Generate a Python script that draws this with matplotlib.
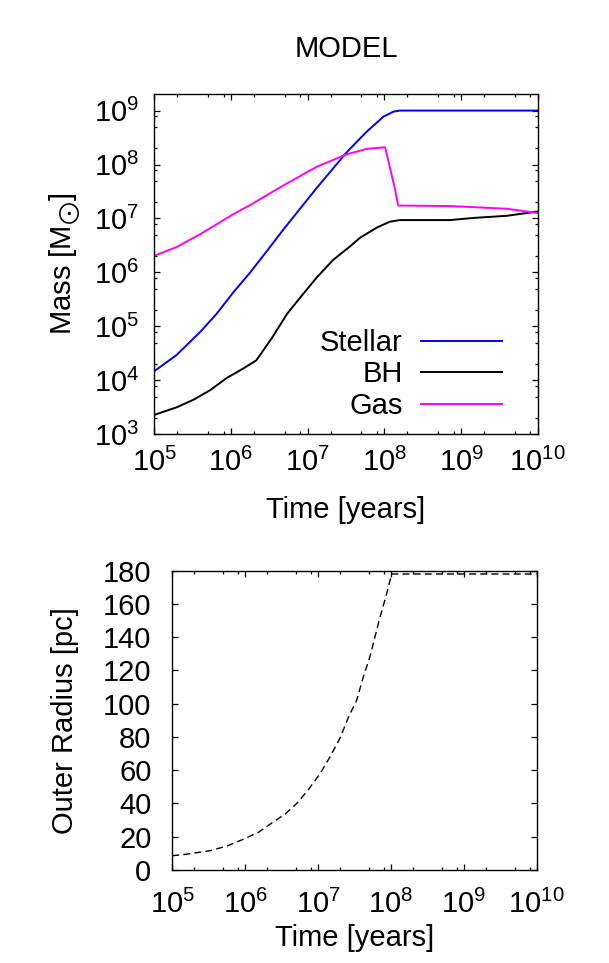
#!/usr/bin/env python3
"""
Mass growth and outer radius of the model vs time
"""

import numpy as np
import matplotlib
matplotlib.use("Agg")
import matplotlib.pyplot as plt
from matplotlib.ticker import LogLocator, MultipleLocator, NullLocator

# log10(time / yr) and log10(mass / Msun)
log_t_stellar = [5.0, 5.29, 5.60, 5.81, 6.03, 6.25, 6.47, 6.68, 7.12, 7.51, 7.77, 7.99, 8.12, 8.20, 10.0]
log_m_stellar = [4.17, 4.47, 4.90, 5.23, 5.63, 6.00, 6.40, 6.79, 7.57, 8.23, 8.61, 8.89, 8.98, 9.0, 9.0]

log_t_bh = [5.0, 5.29, 5.51, 5.73, 5.94, 6.16, 6.33, 6.54, 6.73, 6.90, 7.12, 7.33, 7.55, 7.68,
            7.90, 8.07, 8.20, 8.85, 9.16, 9.6, 10.0]
log_m_bh = [3.36, 3.50, 3.64, 3.82, 4.04, 4.22, 4.37, 4.80, 5.23, 5.53, 5.91, 6.23, 6.48, 6.64,
            6.83, 6.94, 6.97, 6.97, 7.01, 7.05, 7.13]

log_t_gas = [5.0, 5.29, 5.60, 5.81, 6.03, 6.25, 6.68, 7.12, 7.51, 7.77, 8.01, 8.07, 8.14, 8.18,
             8.85, 9.16, 9.6, 10.0]
log_m_gas = [6.31, 6.47, 6.71, 6.89, 7.08, 7.25, 7.61, 7.96, 8.19, 8.29, 8.32, 7.96, 7.53, 7.24,
             7.23, 7.21, 7.18, 7.10]

# outer radius in pc
log_t_radius = [5.0, 5.15, 5.52, 5.75, 5.97, 6.18, 6.36, 6.55, 6.71, 6.87, 7.03, 7.16, 7.30,
                7.42, 7.53, 7.62, 7.71, 7.78, 7.85, 7.94, 8.01, 10.0]
radius_pc = [8.6, 9.2, 11.6, 14.4, 18.4, 22.6, 28.1, 33.7, 40.1, 48.5, 58.1, 67.7, 79.2,
             92.2, 102, 116, 128, 140, 152, 166, 178, 178]

series_labels = ["Stellar", "BH", "Gas"]
series_colors = ["#0000ff", "#000000", "#ff00ff"]


def style_axis(ax, ylog=True):
    """gnuplot-like ticks: inward, mirrored on all sides"""
    ax.set_xscale("log")
    ax.xaxis.set_major_locator(LogLocator(base=10, numticks=20))
    ax.xaxis.set_minor_locator(LogLocator(base=10, subs=(2, 5, 8), numticks=20))
    if ylog:
        ax.set_yscale("log")
        ax.yaxis.set_major_locator(LogLocator(base=10, numticks=20))
        ax.yaxis.set_minor_locator(LogLocator(base=10, subs=(2, 5, 8), numticks=20))
    ax.tick_params(which="both", direction="in", top=True, right=True,
                   width=0.9, colors="black", labelsize=21)
    ax.tick_params(which="major", length=4.5)
    ax.tick_params(which="minor", length=2.3)
    for sp in ax.spines.values():
        sp.set_linewidth(1.0)


def main():
    plt.rcParams["font.family"] = ["Liberation Sans", "DejaVu Sans"]
    plt.rcParams["mathtext.fontset"] = "custom"
    plt.rcParams["mathtext.rm"] = "Liberation Sans"
    plt.rcParams["mathtext.it"] = "Liberation Sans:italic"
    plt.rcParams["mathtext.default"] = "regular"

    fig = plt.figure(figsize=(6.09, 9.63), dpi=100)

    # ---- top panel: masses ----
    ax1 = fig.add_axes([0.2534, 0.549, 0.6296, 0.353])
    mass_data = [(log_t_stellar, log_m_stellar),
                 (log_t_bh, log_m_bh),
                 (log_t_gas, log_m_gas)]
    for (lt, lm), lab, col in zip(mass_data, series_labels, series_colors):
        ax1.plot(10 ** np.array(lt), 10 ** np.array(lm), color=col, lw=1.4, label=lab)

    ax1.set_xlim(1e5, 1e10)
    ax1.set_ylim(1e3, 10 ** 9.3)
    style_axis(ax1)
    ax1.tick_params(axis="x", which="major", pad=10)
    ax1.tick_params(axis="y", which="major", pad=11)
    ax1.set_xlabel("Time [years]", fontsize=21)
    ax1.set_ylabel(r"Mass [M$_{\bigodot}$]", fontsize=21)
    ax1.xaxis.set_label_coords(0.5, -0.18)
    ax1.yaxis.set_label_coords(-0.187, 0.5)

    ax1.legend(loc="center right", bbox_to_anchor=(0.906, 0.176), frameon=False,
               markerfirst=False, fontsize=21, handlelength=2.77,
               handletextpad=0.62, labelspacing=0.12, borderpad=0,
               borderaxespad=0)

    fig.text(346 / 609, 1 - 49 / 963, "MODEL", fontsize=21, ha="center", va="center")

    # ---- bottom panel: outer radius ----
    ax2 = fig.add_axes([0.2829, 0.0966, 0.5984, 0.3108])
    ax2.plot(10 ** np.array(log_t_radius), radius_pc, color="black", lw=1.0,
             dashes=(5, 3))
    ax2.set_xlim(1e5, 1e10)
    ax2.set_ylim(0, 180)
    style_axis(ax2, ylog=False)
    ax2.yaxis.set_major_locator(MultipleLocator(20))
    ax2.yaxis.set_minor_locator(NullLocator())
    ax2.tick_params(axis="x", which="major", pad=14)
    ax2.tick_params(axis="y", which="major", pad=15)
    ax2.set_xlabel("Time [years]", fontsize=21)
    ax2.set_ylabel("Outer Radius [pc]", fontsize=21)
    ax2.xaxis.set_label_coords(0.5, -0.18)
    ax2.yaxis.set_label_coords(-0.255, 0.5)

    fig.savefig("out.png", dpi=100)
    plt.close(fig)


if __name__ == "__main__":
    main()
